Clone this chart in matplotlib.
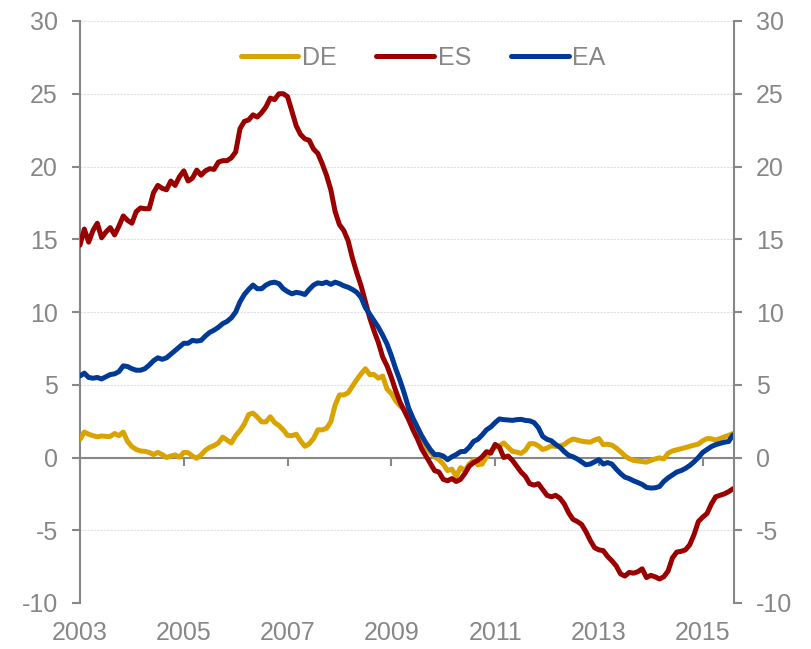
import numpy as np
import matplotlib
matplotlib.use("Agg")
import matplotlib.pyplot as plt

plt.rcParams['font.family'] = ['Liberation Sans', 'DejaVu Sans']
plt.rcParams['axes.unicode_minus'] = False

# monthly values, Jan 2003 .. Aug 2015
DE = [1.25, 1.75, 1.6, 1.5, 1.42, 1.48, 1.45, 1.45, 1.65, 1.5, 1.75, 1.1,
      0.75, 0.55, 0.45, 0.42, 0.35, 0.2, 0.35, 0.2, 0.0, 0.1, 0.18, 0.02,
      0.35, 0.33, 0.1, -0.05, 0.18, 0.5, 0.7, 0.82, 1.0, 1.4, 1.2, 1.0,
      1.5, 1.85, 2.3, 2.95, 3.05, 2.78, 2.45, 2.45, 2.8, 2.4, 2.2, 1.9,
      1.52, 1.5, 1.6, 1.15, 0.77, 0.94, 1.3, 1.9, 1.9, 2.0, 2.45, 3.6,
      4.3, 4.3, 4.45, 4.9, 5.35, 5.75, 6.1, 5.7, 5.7, 5.45, 5.6, 4.7,
      4.4, 3.9, 3.55, 3.3, 2.9, 2.3, 1.7, 1.15, 0.7, 0.35, 0.05, -0.15,
      -0.45, -0.9, -0.8, -1.3, -0.7, -0.9, -0.45, -0.2, -0.5, -0.45, 0.05, 0.45,
      0.72, 0.8, 1.0, 0.7, 0.42, 0.37, 0.28, 0.5, 0.95, 0.95, 0.8, 0.55,
      0.65, 0.8, 0.76, 0.8, 0.9, 1.12, 1.27, 1.2, 1.12, 1.08, 1.05, 1.2,
      1.3, 0.88, 0.92, 0.85, 0.65, 0.4, 0.12, -0.08, -0.2, -0.24, -0.28, -0.32,
      -0.2, -0.1, -0.02, -0.1, 0.3, 0.45, 0.53, 0.6, 0.68, 0.77, 0.85, 0.92,
      1.15, 1.3, 1.29, 1.2, 1.3, 1.42, 1.52, 1.65]

ES = [14.6, 15.7, 14.8, 15.6, 16.1, 15.1, 15.5, 15.8, 15.3, 15.9, 16.6, 16.3,
      16.1, 16.9, 17.15, 17.1, 17.1, 18.2, 18.7, 18.5, 18.4, 19.0, 18.7, 19.3,
      19.7, 19.0, 19.2, 19.75, 19.4, 19.7, 19.85, 19.8, 20.3, 20.4, 20.4, 20.6,
      21.0, 22.6, 23.1, 23.2, 23.55, 23.4, 23.7, 24.1, 24.7, 24.6, 25.0, 25.0,
      24.8, 23.8, 22.8, 22.2, 21.9, 21.8, 21.2, 20.9, 20.2, 19.4, 18.4, 16.9,
      16.0, 15.6, 14.9, 13.7, 12.7, 11.8, 10.7, 9.6, 8.7, 7.9, 6.9, 6.3,
      5.5, 4.6, 3.8, 3.2, 2.6, 1.9, 1.3, 0.6, 0.1, -0.4, -0.9, -1.0,
      -1.5, -1.6, -1.45, -1.65, -1.5, -1.1, -0.6, -0.35, -0.2, 0.05, 0.4, 0.3,
      0.9, 0.7, 0.0, 0.1, -0.2, -0.6, -1.0, -1.3, -1.8, -1.9, -1.8, -2.2,
      -2.6, -2.7, -2.6, -2.8, -3.2, -3.8, -4.25, -4.4, -4.6, -5.1, -5.7, -6.2,
      -6.35, -6.4, -6.8, -7.1, -7.45, -8.0, -8.15, -7.9, -7.95, -7.85, -7.65, -8.25,
      -8.1, -8.2, -8.35, -8.2, -7.8, -6.9, -6.5, -6.45, -6.35, -6.0, -5.3, -4.4,
      -4.1, -3.85, -3.2, -2.7, -2.6, -2.5, -2.35, -2.15]

EA = [5.6, 5.8, 5.5, 5.45, 5.5, 5.4, 5.55, 5.7, 5.75, 5.9, 6.3, 6.25,
      6.1, 6.0, 6.0, 6.1, 6.35, 6.65, 6.85, 6.75, 6.85, 7.1, 7.35, 7.6,
      7.85, 7.85, 8.05, 8.0, 8.05, 8.35, 8.6, 8.75, 8.95, 9.2, 9.35, 9.6,
      10.0, 10.7, 11.2, 11.55, 11.85, 11.6, 11.6, 11.85, 12.0, 12.05, 11.95, 11.6,
      11.4, 11.25, 11.35, 11.3, 11.2, 11.55, 11.85, 12.0, 11.95, 12.05, 11.9, 12.05,
      11.95, 11.8, 11.7, 11.55, 11.35, 11.0, 10.3, 9.85, 9.4, 8.95, 8.4, 7.8,
      7.0, 6.1, 5.3, 4.4, 3.4, 2.7, 2.1, 1.5, 1.0, 0.55, 0.2, 0.2,
      0.1, -0.15, 0.05, 0.2, 0.4, 0.42, 0.7, 1.1, 1.25, 1.55, 1.9, 2.1,
      2.4, 2.65, 2.6, 2.58, 2.55, 2.6, 2.62, 2.55, 2.52, 2.4, 2.05, 1.45,
      1.25, 1.15, 0.9, 0.7, 0.4, 0.15, 0.05, -0.1, -0.3, -0.5, -0.45, -0.3,
      -0.15, -0.45, -0.35, -0.45, -0.8, -1.1, -1.35, -1.45, -1.6, -1.72, -1.85, -2.05,
      -2.1, -2.08, -2.0, -1.65, -1.4, -1.2, -1.0, -0.9, -0.75, -0.55, -0.3, 0.0,
      0.35, 0.55, 0.75, 0.88, 0.97, 1.05, 1.1, 1.55]

years = [2003, 2005, 2007, 2009, 2011, 2013, 2015]
yticks = [-10, -5, 0, 5, 10, 15, 20, 25, 30]

x = 2003 + np.arange(len(ES)) / 12.0

gray = '#878787'
fs = 18

fig = plt.figure(figsize=(8.12, 6.49), dpi=100)
ax = fig.add_axes([80 / 812, 1 - 603 / 649, 654 / 812, 582 / 649])

ax.plot(x, DE, color='#D9A400', lw=3.6, label='DE', solid_capstyle='round', zorder=3)
ax.plot(x, ES, color='#9A0000', lw=3.6, label='ES', solid_capstyle='round', zorder=4)
ax.plot(x, EA, color='#003A96', lw=3.6, label='EA', solid_capstyle='round', zorder=5)

ax.set_xlim(x[0], x[-1] + 0.02)
ax.set_ylim(-10, 30)
ax.set_yticks(yticks)
ax.yaxis.grid(True, color='#e0e0e0', lw=0.8, ls=(0, (2, 1)))
ax.set_axisbelow(True)

for s in ['top', 'right']:
    ax.spines[s].set_visible(False)
ax.spines['left'].set_color(gray)
ax.spines['left'].set_linewidth(1.5)
ax.spines['bottom'].set_position(('data', 0))
ax.spines['bottom'].set_color(gray)
ax.spines['bottom'].set_linewidth(1.5)
ax.spines['bottom'].set_zorder(2)

ax.set_xticks(years)
ax.tick_params(axis='x', direction='out', length=6, width=1.5, color=gray, labelbottom=False)
ax.tick_params(axis='y', direction='out', length=6, width=1.5, color=gray,
               labelcolor=gray, labelsize=fs, pad=10)

sec = ax.secondary_xaxis('bottom')
sec.set_xticks(years)
sec.spines['bottom'].set_visible(False)
sec.tick_params(length=0, labelcolor=gray, labelsize=fs, pad=13)

ax2 = ax.twinx()
ax2.set_ylim(-10, 30)
ax2.set_yticks(yticks)
for s in ['top', 'left', 'bottom']:
    ax2.spines[s].set_visible(False)
ax2.spines['right'].set_color(gray)
ax2.spines['right'].set_linewidth(1.5)
ax2.tick_params(axis='y', direction='out', length=6, width=1.5, color=gray,
                labelcolor=gray, labelsize=fs, pad=10)

leg = fig.legend(*ax.get_legend_handles_labels(), loc='center', ncol=3,
                 bbox_to_anchor=(0.521, 0.911), frameon=False, fontsize=fs,
                 handlelength=2.3, handletextpad=0.15, columnspacing=1.6)
for t in leg.get_texts():
    t.set_color(gray)

fig.savefig('out.png', dpi=100)
